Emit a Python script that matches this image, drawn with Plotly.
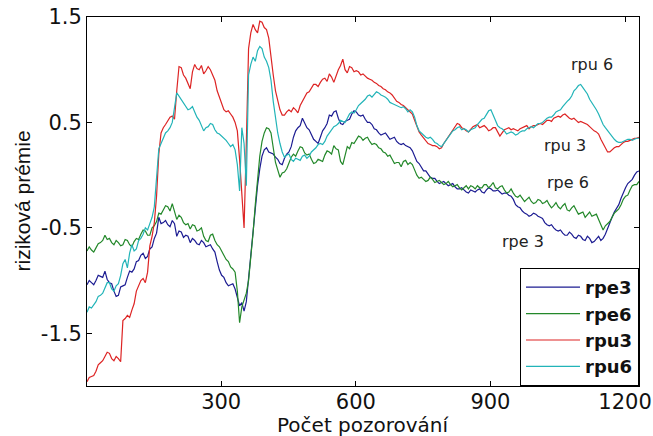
import plotly.graph_objects as go

# observation index: main samples every 10th observation, mid samples in between
obs = list(range(1, 1232, 10))
obs_mid = list(range(6, 1227, 10))

rpe3 = [-1.04, -1.02, -1.00, -0.96, -0.91, -1.02, -1.10, -1.14, -1.05, -0.97,
        -0.92, -0.82, -0.76, -0.79, -0.70, -0.60, -0.40, -0.45, -0.47, -0.43,
        -0.58, -0.54, -0.57, -0.64, -0.62, -0.66, -0.64, -0.67, -0.70, -0.82,
        -0.95, -1.02, -1.04, -1.08, -1.24, -1.29, -0.98, -0.53, -0.10, 0.18,
        0.26, 0.21, 0.17, 0.11, 0.16, 0.22, 0.36, 0.45, 0.54, 0.45,
        0.38, 0.32, 0.36, 0.45, 0.57, 0.60, 0.54, 0.48, 0.52, 0.58,
        0.60, 0.56, 0.53, 0.50, 0.44, 0.40, 0.39, 0.37, 0.35, 0.32,
        0.29, 0.28, 0.26, 0.18, 0.11, 0.04, 0.01, -0.03, -0.06, -0.07,
        -0.08, -0.09, -0.11, -0.13, -0.14, -0.17, -0.15, -0.14, -0.16, -0.14,
        -0.13, -0.15, -0.16, -0.17, -0.19, -0.23, -0.30, -0.34, -0.37, -0.38,
        -0.37, -0.40, -0.45, -0.48, -0.50, -0.53, -0.55, -0.57, -0.56, -0.60,
        -0.58, -0.62, -0.60, -0.63, -0.58, -0.60, -0.50, -0.40, -0.32, -0.22,
        -0.12, -0.06, 0.00, 0.04]
rpe3_mid = [-1.00, -1.04, -0.95, -0.97, -0.99, -1.03, -1.15, -1.06, -1.04, -0.91,
            -0.89, -0.81, -0.74, -0.77, -0.68, -0.55, -0.46, -0.43, -0.49, -0.46,
            -0.53, -0.59, -0.58, -0.60, -0.65, -0.62, -0.68, -0.66, -0.73, -0.90,
            -0.97, -1.05, -1.03, -1.17, -1.21, -1.20, -0.78, -0.30, 0.06, 0.24,
            0.22, 0.20, 0.15, 0.10, 0.20, 0.27, 0.42, 0.47, 0.50, 0.43,
            0.34, 0.30, 0.42, 0.49, 0.56, 0.61, 0.49, 0.51, 0.53, 0.61,
            0.57, 0.57, 0.50, 0.48, 0.43, 0.38, 0.40, 0.34, 0.36, 0.30,
            0.30, 0.27, 0.23, 0.13, 0.08, 0.04, -0.02, -0.03, -0.08, -0.06,
            -0.10, -0.08, -0.13, -0.12, -0.16, -0.14, -0.16, -0.13, -0.17, -0.12,
            -0.15, -0.14, -0.18, -0.17, -0.20, -0.28, -0.31, -0.36, -0.39, -0.36,
            -0.39, -0.41, -0.47, -0.47, -0.52, -0.52, -0.57, -0.54, -0.59, -0.57,
            -0.61, -0.58, -0.64, -0.60, -0.62, -0.56, -0.46, -0.35, -0.28, -0.16,
            -0.08, -0.04, 0.03]

rpe6 = [-0.72, -0.71, -0.69, -0.64, -0.57, -0.60, -0.66, -0.64, -0.66, -0.62,
        -0.68, -0.60, -0.56, -0.53, -0.57, -0.48, -0.36, -0.33, -0.30, -0.27,
        -0.42, -0.40, -0.47, -0.51, -0.48, -0.52, -0.58, -0.63, -0.56, -0.66,
        -0.72, -0.80, -0.87, -0.92, -1.40, -1.18, -1.00, -0.55, -0.05, 0.32,
        0.45, 0.40, 0.12, -0.02, 0.03, 0.12, 0.20, 0.23, 0.26, 0.19,
        0.15, 0.12, 0.14, 0.19, 0.22, 0.28, 0.24, 0.10, 0.27, 0.31,
        0.34, 0.36, 0.35, 0.32, 0.30, 0.26, 0.22, 0.18, 0.15, 0.12,
        0.08, 0.14, 0.12, 0.05, -0.03, -0.04, -0.05, -0.04, -0.06, -0.07,
        -0.08, -0.09, -0.10, -0.12, -0.12, -0.13, -0.11, -0.10, -0.12, -0.09,
        -0.10, -0.12, -0.11, -0.14, -0.16, -0.17, -0.21, -0.22, -0.23, -0.25,
        -0.26, -0.24, -0.26, -0.28, -0.29, -0.30, -0.29, -0.33, -0.31, -0.33,
        -0.36, -0.40, -0.35, -0.38, -0.42, -0.52, -0.46, -0.40, -0.34, -0.28,
        -0.20, -0.14, -0.09, -0.06]
rpe6_mid = [-0.68, -0.73, -0.65, -0.62, -0.61, -0.64, -0.62, -0.67, -0.61, -0.66,
            -0.63, -0.61, -0.52, -0.57, -0.50, -0.44, -0.37, -0.29, -0.34, -0.36,
            -0.38, -0.45, -0.46, -0.47, -0.53, -0.50, -0.62, -0.57, -0.62, -0.68,
            -0.75, -0.82, -0.89, -1.10, -1.25, -1.12, -0.80, -0.28, 0.18, 0.40,
            0.44, 0.25, 0.05, 0.02, 0.06, 0.17, 0.18, 0.27, 0.21, 0.20,
            0.11, 0.15, 0.13, 0.23, 0.20, 0.25, 0.13, 0.20, 0.25, 0.30,
            0.37, 0.33, 0.36, 0.29, 0.29, 0.25, 0.21, 0.19, 0.11, 0.12,
            0.13, 0.10, 0.10, 0.00, -0.02, -0.06, -0.02, -0.07, -0.05, -0.09,
            -0.06, -0.11, -0.09, -0.14, -0.10, -0.10, -0.13, -0.12, -0.09, -0.12,
            -0.07, -0.13, -0.10, -0.17, -0.13, -0.20, -0.19, -0.25, -0.21, -0.27,
            -0.23, -0.27, -0.24, -0.31, -0.26, -0.32, -0.27, -0.34, -0.29, -0.37,
            -0.35, -0.37, -0.39, -0.37, -0.47, -0.48, -0.44, -0.36, -0.32, -0.23,
            -0.19, -0.10, -0.09]

rpu3 = [-1.96, -1.91, -1.86, -1.78, -1.72, -1.69, -1.76, -1.74, -1.38, -1.33,
        -1.28, -1.10, -1.00, -1.02, -0.67, -0.45, 0.20, 0.45, 0.52, 0.56,
        0.80, 1.02, 0.92, 0.82, 1.05, 1.00, 0.96, 1.03, 0.95, 0.80,
        0.66, 0.60, 0.58, 0.50, 0.15, -0.50, 1.20, 1.43, 1.35, 1.45,
        1.38, 1.10, 0.80, 0.62, 0.57, 0.62, 0.64, 0.59, 0.70, 0.78,
        0.82, 0.86, 0.88, 0.92, 0.96, 0.88, 1.00, 1.10, 0.97, 1.02,
        0.99, 0.95, 0.94, 0.91, 0.88, 0.85, 0.82, 0.79, 0.76, 0.70,
        0.67, 0.64, 0.60, 0.52, 0.41, 0.35, 0.30, 0.28, 0.27, 0.26,
        0.33, 0.40, 0.46, 0.48, 0.44, 0.41, 0.46, 0.48, 0.46, 0.45,
        0.43, 0.45, 0.37, 0.43, 0.45, 0.44, 0.42, 0.45, 0.47, 0.46,
        0.47, 0.49, 0.50, 0.52, 0.54, 0.56, 0.57, 0.56, 0.53, 0.52,
        0.51, 0.49, 0.46, 0.42, 0.39, 0.30, 0.22, 0.24, 0.27, 0.29,
        0.32, 0.33, 0.35, 0.36]
rpu3_mid = [-1.92, -1.90, -1.80, -1.76, -1.68, -1.74, -1.72, -1.77, -1.36, -1.35,
            -1.22, -1.05, -0.98, -0.92, -0.58, -0.20, 0.40, 0.48, 0.55, 0.53,
            1.03, 0.95, 0.86, 0.98, 1.01, 1.04, 0.99, 1.00, 0.90, 0.74,
            0.62, 0.61, 0.55, 0.42, -0.20, 0.30, 1.35, 1.38, 1.46, 1.40,
            1.30, 0.95, 0.70, 0.57, 0.60, 0.60, 0.62, 0.66, 0.73, 0.79,
            0.86, 0.84, 0.91, 0.89, 0.93, 0.95, 1.04, 1.00, 1.03, 0.98,
            0.98, 0.96, 0.92, 0.90, 0.87, 0.84, 0.81, 0.78, 0.73, 0.69,
            0.66, 0.62, 0.58, 0.46, 0.38, 0.32, 0.29, 0.28, 0.25, 0.30,
            0.37, 0.43, 0.49, 0.45, 0.42, 0.44, 0.47, 0.45, 0.47, 0.42,
            0.45, 0.41, 0.40, 0.44, 0.43, 0.43, 0.44, 0.46, 0.44, 0.47,
            0.48, 0.48, 0.52, 0.51, 0.55, 0.55, 0.58, 0.54, 0.54, 0.50,
            0.50, 0.48, 0.44, 0.41, 0.34, 0.26, 0.22, 0.26, 0.27, 0.31,
            0.32, 0.34, 0.35]

rpu6 = [-1.30, -1.26, -1.20, -1.14, -1.06, -1.02, -1.10, -1.03, -0.84, -0.88,
        -0.66, -0.70, -0.60, -0.50, -0.46, -0.30, 0.25, 0.36, 0.42, 0.50,
        0.78, 0.72, 0.66, 0.63, 0.60, 0.52, 0.42, 0.46, 0.48, 0.40,
        0.37, 0.33, 0.27, 0.24, -0.15, 0.30, 0.95, 1.12, 1.18, 1.20,
        1.08, 0.90, 0.52, 0.30, 0.17, 0.20, 0.13, 0.15, 0.18, 0.16,
        0.22, 0.26, 0.30, 0.32, 0.40, 0.46, 0.49, 0.51, 0.54, 0.60,
        0.62, 0.68, 0.72, 0.76, 0.77, 0.78, 0.75, 0.72, 0.68, 0.66,
        0.64, 0.63, 0.62, 0.55, 0.42, 0.38, 0.35, 0.34, 0.30, 0.27,
        0.33, 0.40, 0.43, 0.46, 0.44, 0.41, 0.44, 0.48, 0.53, 0.57,
        0.62, 0.52, 0.45, 0.42, 0.40, 0.40, 0.39, 0.42, 0.44, 0.46,
        0.47, 0.49, 0.52, 0.55, 0.57, 0.61, 0.65, 0.70, 0.75, 0.82,
        0.86, 0.80, 0.72, 0.66, 0.58, 0.48, 0.42, 0.37, 0.32, 0.31,
        0.33, 0.34, 0.34, 0.35]
rpu6_mid = [-1.25, -1.23, -1.15, -1.12, -1.02, -1.08, -1.05, -0.95, -0.80, -0.74,
            -0.72, -0.62, -0.56, -0.52, -0.40, -0.05, 0.30, 0.40, 0.45, 0.62,
            0.75, 0.68, 0.62, 0.65, 0.55, 0.46, 0.45, 0.49, 0.43, 0.39,
            0.35, 0.30, 0.29, 0.10, 0.45, -0.10, 1.05, 1.08, 1.22, 1.12,
            1.02, 0.70, 0.40, 0.22, 0.19, 0.15, 0.16, 0.14, 0.19, 0.18,
            0.24, 0.29, 0.29, 0.37, 0.43, 0.47, 0.52, 0.50, 0.58, 0.59,
            0.66, 0.70, 0.75, 0.74, 0.79, 0.76, 0.74, 0.69, 0.67, 0.65,
            0.65, 0.60, 0.60, 0.47, 0.40, 0.36, 0.36, 0.31, 0.28, 0.30,
            0.37, 0.42, 0.45, 0.43, 0.43, 0.43, 0.45, 0.51, 0.54, 0.61,
            0.56, 0.47, 0.44, 0.39, 0.41, 0.38, 0.41, 0.42, 0.45, 0.45,
            0.49, 0.50, 0.54, 0.55, 0.60, 0.62, 0.68, 0.72, 0.80, 0.85,
            0.83, 0.77, 0.69, 0.62, 0.53, 0.45, 0.39, 0.34, 0.31, 0.32,
            0.34, 0.33, 0.35]

series_names = ["rpe3", "rpe6", "rpu3", "rpu6"]
series_main = [rpe3, rpe6, rpu3, rpu6]
series_mid = [rpe3_mid, rpe6_mid, rpu3_mid, rpu6_mid]
colors = ["#1c1c92", "#23882a", "#dd2424", "#22b4b8"]

x_ticks = [300, 600, 900, 1200]
y_ticks = [-1.5, -0.5, 0.5, 1.5]

labels_text = ["rpu 6", "rpu 3", "rpe 6", "rpe 3"]
labels_x = [1127, 1067, 1073, 973]
labels_y = [1.05, 0.28, -0.07, -0.63]

WIDE = "DejaVu Sans, Verdana, sans-serif"
NARROW = "Liberation Sans, Arial, sans-serif"


def merge(xa, ya, xb, yb):
    pts = list(zip(xa, ya)) + list(zip(xb, yb))
    pts.sort(key=lambda p: p[0])
    return [p[0] for p in pts], [p[1] for p in pts]


fig = go.Figure()
for name, main, mid, col in zip(series_names, series_main, series_mid, colors):
    xs, ys = merge(obs, main, obs_mid, mid)
    fig.add_trace(go.Scatter(x=xs, y=ys, mode="lines", name=name,
                             line=dict(color=col, width=1.2)))

for t, lx, ly in zip(labels_text, labels_x, labels_y):
    fig.add_annotation(x=lx, y=ly, text=t, showarrow=False,
                       font=dict(family=WIDE, size=16, color="#222"))

# axis titles
fig.add_annotation(xref="paper", yref="paper", x=0.5, y=0, yshift=-39,
                   text="Počet pozorování", showarrow=False, yanchor="middle",
                   font=dict(family=WIDE, size=20, color="#111"))
fig.add_annotation(xref="paper", yref="paper", x=0, y=0.5, xshift=-65,
                   text="riziková prémie", showarrow=False, textangle=-90,
                   xanchor="center", yanchor="middle",
                   font=dict(family=NARROW, size=21, color="#111"))

axis_common = dict(showline=True, linecolor="black", linewidth=1, mirror="ticks",
                   ticks="inside", ticklen=5, tickcolor="black", showgrid=False,
                   zeroline=False, automargin=False,
                   tickfont=dict(family=WIDE, size=21, color="#111"))

fig.update_layout(
    width=653, height=436,
    margin=dict(l=87, r=14, t=17, b=50),
    paper_bgcolor="white", plot_bgcolor="white",
    xaxis=dict(range=[1, 1231], tickvals=x_ticks, ticktext=[str(v) for v in x_ticks],
               **axis_common),
    yaxis=dict(range=[-2, 1.5], tickvals=y_ticks, ticktext=[str(v) for v in y_ticks],
               **axis_common),
    legend=dict(x=1, y=0, xanchor="right", yanchor="bottom", bgcolor="white",
                bordercolor="black", borderwidth=1, itemwidth=54,
                font=dict(family=WIDE, size=18, color="#111", weight="bold"),
                tracegroupgap=0),
    showlegend=True,
)
fig.update_xaxes(ticklabelstandoff=-3)

fig.write_html("out.html", config={"displayModeBar": False},
               post_script="document.body.style.margin='0px';")
